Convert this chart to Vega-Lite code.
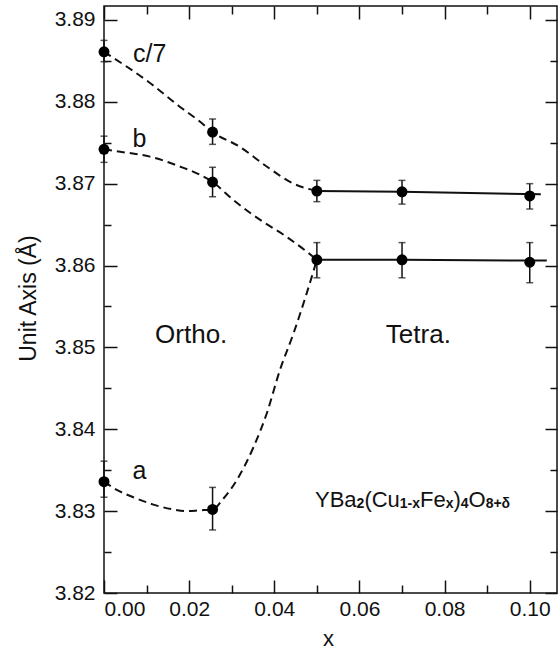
{
  "$schema": "https://vega.github.io/schema/vega-lite/v6.json",
  "width": 453,
  "height": 587,
  "autosize": "none",
  "padding": {"left": 104, "top": 6, "right": 2, "bottom": 56},
  "background": "white",
  "config": {
    "font": "Liberation Sans",
    "view": {"stroke": "#111", "strokeWidth": 1.5},
    "axis": {"domain": false, "grid": false, "tickColor": "#111", "tickWidth": 1.5, "labelFont": "Liberation Sans", "labelFontSize": 21, "labelColor": "#111", "titleFont": "Liberation Sans", "titleFontWeight": "normal", "titleColor": "#111"}
  },
  "datasets": {
    "pts": [
      {"s": "c", "x": 0, "y": 3.8861, "lo": 3.8849, "hi": 3.8875},
      {"s": "c", "x": 0.0255, "y": 3.8763, "lo": 3.8748, "hi": 3.8779},
      {"s": "c", "x": 0.05, "y": 3.8691, "lo": 3.8678, "hi": 3.8704},
      {"s": "c", "x": 0.07, "y": 3.869, "lo": 3.8675, "hi": 3.8704},
      {"s": "c", "x": 0.1, "y": 3.8685, "lo": 3.8669, "hi": 3.87},
      {"s": "b", "x": 0, "y": 3.8742, "lo": 3.8726, "hi": 3.8758},
      {"s": "b", "x": 0.0255, "y": 3.8702, "lo": 3.8684, "hi": 3.872},
      {"s": "b", "x": 0.05, "y": 3.8607, "lo": 3.8585, "hi": 3.8628},
      {"s": "b", "x": 0.07, "y": 3.8607, "lo": 3.8585, "hi": 3.8628},
      {"s": "b", "x": 0.1, "y": 3.8604, "lo": 3.8579, "hi": 3.8628},
      {"s": "a", "x": 0, "y": 3.8336, "lo": 3.8317, "hi": 3.8361},
      {"s": "a", "x": 0.0255, "y": 3.8302, "lo": 3.8277, "hi": 3.8329}
    ],
    "dashed": [
      {"s": "c", "x": 0, "y": 3.8861}, {"s": "c", "x": 0.0108, "y": 3.8823}, {"s": "c", "x": 0.0178, "y": 3.8794}, {"s": "c", "x": 0.0225, "y": 3.8776}, {"s": "c", "x": 0.0255, "y": 3.8763}, {"s": "c", "x": 0.0319, "y": 3.8745}, {"s": "c", "x": 0.0382, "y": 3.8721}, {"s": "c", "x": 0.0445, "y": 3.87}, {"s": "c", "x": 0.05, "y": 3.8691},
      {"s": "b", "x": 0, "y": 3.8742}, {"s": "b", "x": 0.0038, "y": 3.8739}, {"s": "b", "x": 0.0108, "y": 3.8733}, {"s": "b", "x": 0.0178, "y": 3.8721}, {"s": "b", "x": 0.0225, "y": 3.8711}, {"s": "b", "x": 0.0255, "y": 3.8702}, {"s": "b", "x": 0.0304, "y": 3.868}, {"s": "b", "x": 0.0366, "y": 3.8656}, {"s": "b", "x": 0.0429, "y": 3.8635}, {"s": "b", "x": 0.0476, "y": 3.8617}, {"s": "b", "x": 0.05, "y": 3.8607},
      {"s": "a", "x": 0, "y": 3.8336}, {"s": "a", "x": 0.003, "y": 3.8326}, {"s": "a", "x": 0.0069, "y": 3.8317}, {"s": "a", "x": 0.0116, "y": 3.8308}, {"s": "a", "x": 0.0163, "y": 3.8302}, {"s": "a", "x": 0.0194, "y": 3.83}, {"s": "a", "x": 0.0225, "y": 3.8301}, {"s": "a", "x": 0.0255, "y": 3.8302}, {"s": "a", "x": 0.028, "y": 3.8315}, {"s": "a", "x": 0.0312, "y": 3.8338}, {"s": "a", "x": 0.0351, "y": 3.8378}, {"s": "a", "x": 0.0382, "y": 3.8419}, {"s": "a", "x": 0.0413, "y": 3.8472}, {"s": "a", "x": 0.0445, "y": 3.8517}, {"s": "a", "x": 0.0476, "y": 3.8566}, {"s": "a", "x": 0.05, "y": 3.8607}
    ],
    "solid": [
      {"s": "c", "x": 0.05, "y": 3.8691}, {"s": "c", "x": 0.07, "y": 3.869}, {"s": "c", "x": 0.1026, "y": 3.8687},
      {"s": "b", "x": 0.05, "y": 3.8607}, {"s": "b", "x": 0.07, "y": 3.8607}, {"s": "b", "x": 0.104, "y": 3.8606}
    ],
    "labels": [
      {"t": "c/7", "x": 0.0068, "y": 3.8849},
      {"t": "b", "x": 0.0067, "y": 3.8745},
      {"t": "a", "x": 0.0067, "y": 3.8339}
    ],
    "phase": [
      {"t": "Ortho.", "x": 0.012, "y": 3.8505},
      {"t": "Tetra.", "x": 0.0662, "y": 3.8505}
    ],
    "fbig": [
      {"t": "YBa", "x": 0.04955, "y": 3.8305},
      {"t": "(Cu", "x": 0.06116, "y": 3.8305},
      {"t": "Fe", "x": 0.07421, "y": 3.8305},
      {"t": ")", "x": 0.08208, "y": 3.8305},
      {"t": "O", "x": 0.08563, "y": 3.8305}
    ],
    "fsmall": [
      {"t": "2", "x": 0.05932, "y": 3.8304},
      {"t": "1-x", "x": 0.06947, "y": 3.8304},
      {"t": "x", "x": 0.08025, "y": 3.8304},
      {"t": "4", "x": 0.0838, "y": 3.8304},
      {"t": "8+δ", "x": 0.08964, "y": 3.8304}
    ]
  },
  "resolve": {"axis": {"x": "independent", "y": "independent"}},
  "layer": [
    {
      "data": {"name": "pts"},
      "mark": {"type": "rule", "color": "#111", "strokeWidth": 1.5},
      "encoding": {
        "x": {"field": "x", "type": "quantitative", "scale": {"domain": [0, 0.1064], "nice": false, "zero": false}, "axis": null},
        "y": {"field": "lo", "type": "quantitative", "scale": {"domain": [3.82, 3.8917], "nice": false, "zero": false}, "axis": null},
        "y2": {"field": "hi"}
      }
    },
    {
      "data": {"name": "pts"},
      "mark": {"type": "tick", "orient": "horizontal", "color": "#111", "size": 7, "thickness": 1.5},
      "encoding": {
        "x": {"field": "x", "type": "quantitative", "axis": null},
        "y": {"field": "lo", "type": "quantitative", "axis": null}
      }
    },
    {
      "data": {"name": "pts"},
      "mark": {"type": "tick", "orient": "horizontal", "color": "#111", "size": 7, "thickness": 1.5},
      "encoding": {
        "x": {"field": "x", "type": "quantitative", "axis": null},
        "y": {"field": "hi", "type": "quantitative", "axis": null}
      }
    },
    {
      "data": {"name": "dashed"},
      "mark": {"type": "line", "color": "#111", "strokeWidth": 2, "strokeDash": [8, 5], "interpolate": "monotone"},
      "encoding": {
        "x": {"field": "x", "type": "quantitative", "axis": {"orient": "top", "values": [0, 0.02, 0.04, 0.06, 0.08, 0.1], "tickSize": -13, "labels": false, "title": null}},
        "y": {"field": "y", "type": "quantitative", "axis": {"orient": "right", "values": [3.82, 3.83, 3.84, 3.85, 3.86, 3.87, 3.88, 3.89], "tickSize": -12, "labels": false, "title": null}},
        "detail": {"field": "s"}
      }
    },
    {
      "data": {"name": "solid"},
      "mark": {"type": "line", "color": "#111", "strokeWidth": 2},
      "encoding": {
        "x": {"field": "x", "type": "quantitative", "axis": {"orient": "bottom", "values": [0.01, 0.03, 0.05, 0.07, 0.09], "tickSize": -8, "labels": false, "title": null}},
        "y": {"field": "y", "type": "quantitative", "axis": {"orient": "left", "values": [3.825, 3.835, 3.845, 3.855, 3.865, 3.875, 3.885], "tickSize": -7, "labels": false, "title": null}},
        "detail": {"field": "s"}
      }
    },
    {
      "data": {"name": "pts"},
      "mark": {"type": "point", "filled": true, "color": "#000", "opacity": 1, "size": 120},
      "encoding": {
        "x": {"field": "x", "type": "quantitative", "axis": {"orient": "bottom", "values": [0, 0.02, 0.04, 0.06, 0.08, 0.1], "format": ".2f", "tickSize": -13, "labelPadding": 18, "title": "x", "titleFontSize": 22, "titleX": 224, "titleY": 52, "titleBaseline": "alphabetic", "titleAlign": "center"}},
        "y": {"field": "y", "type": "quantitative", "axis": {"orient": "left", "values": [3.82, 3.83, 3.84, 3.85, 3.86, 3.87, 3.88, 3.89], "format": ".2f", "tickSize": -13, "labelPadding": 22, "title": "Unit  Axis (Å)", "titleFontSize": 23, "titleAngle": -90, "titleX": -69, "titleY": 292, "titleBaseline": "alphabetic", "titleAlign": "center"}}
      }
    },
    {
      "data": {"name": "labels"},
      "mark": {"type": "text", "align": "left", "baseline": "alphabetic", "fontSize": 25, "color": "#111"},
      "encoding": {
        "x": {"field": "x", "type": "quantitative", "axis": {"orient": "top", "values": [0.01, 0.03, 0.05, 0.07, 0.09], "tickSize": -8, "labels": false, "title": null}},
        "y": {"field": "y", "type": "quantitative", "axis": {"orient": "right", "values": [3.825, 3.835, 3.845, 3.855, 3.865, 3.875, 3.885], "tickSize": -7, "labels": false, "title": null}},
        "text": {"field": "t"}
      }
    },
    {
      "data": {"name": "phase"},
      "mark": {"type": "text", "align": "left", "baseline": "alphabetic", "fontSize": 26, "color": "#111"},
      "encoding": {
        "x": {"field": "x", "type": "quantitative", "axis": null},
        "y": {"field": "y", "type": "quantitative", "axis": null},
        "text": {"field": "t"}
      }
    },
    {
      "data": {"name": "fbig"},
      "mark": {"type": "text", "align": "left", "baseline": "alphabetic", "fontSize": 22, "color": "#111"},
      "encoding": {
        "x": {"field": "x", "type": "quantitative", "axis": null},
        "y": {"field": "y", "type": "quantitative", "axis": null},
        "text": {"field": "t"}
      }
    },
    {
      "data": {"name": "fsmall"},
      "mark": {"type": "text", "align": "left", "baseline": "alphabetic", "fontSize": 14, "fontWeight": "bold", "color": "#111"},
      "encoding": {
        "x": {"field": "x", "type": "quantitative", "axis": null},
        "y": {"field": "y", "type": "quantitative", "axis": null},
        "text": {"field": "t"}
      }
    }
  ]
}
